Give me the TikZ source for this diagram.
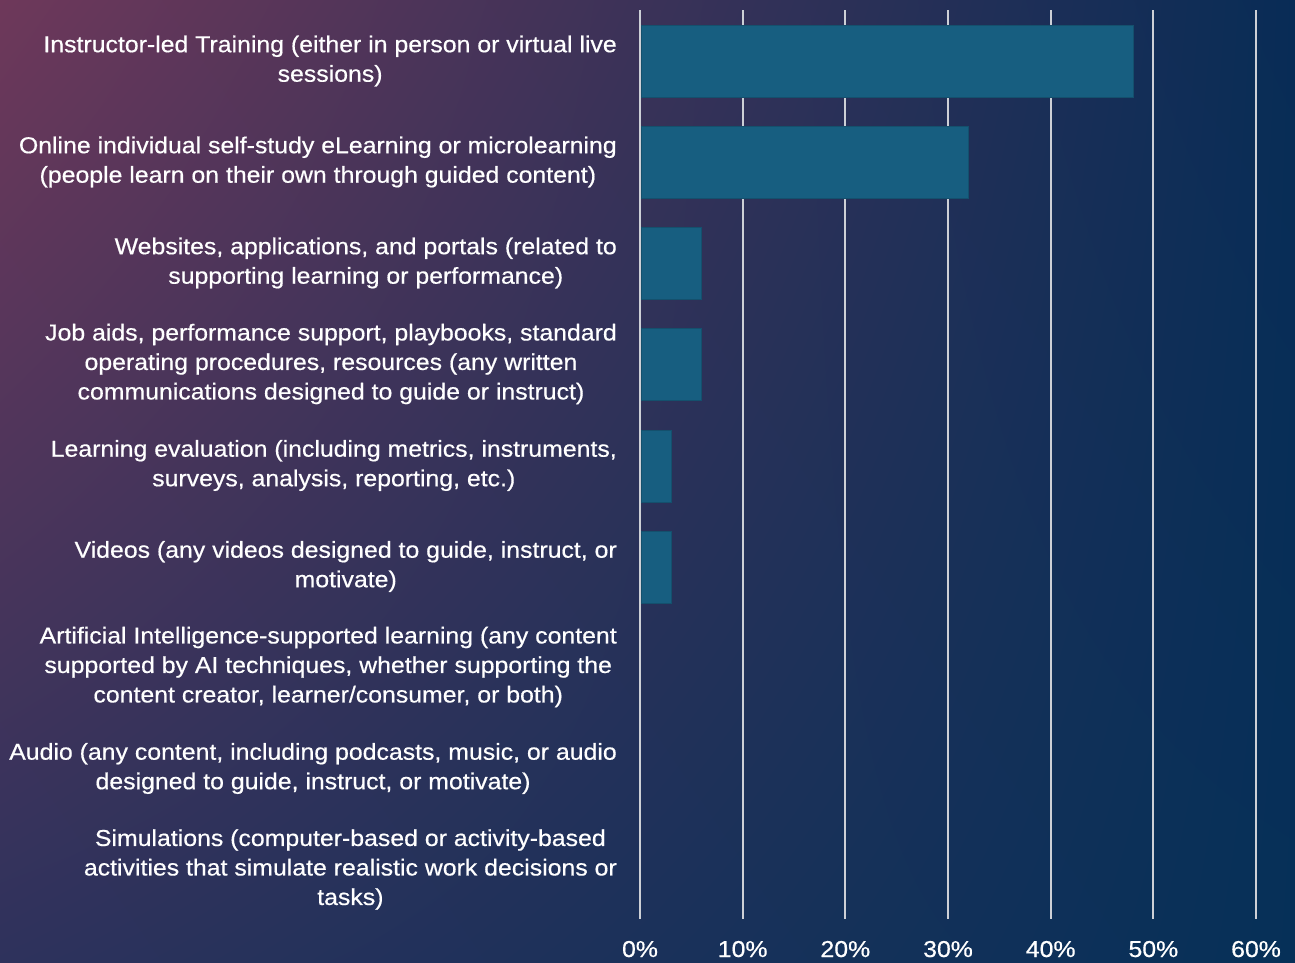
\documentclass[tikz,border=0pt]{standalone}
\usepackage{fontspec}
\usetikzlibrary{shadings}
\setmainfont{Liberation Sans}[FakeStretch=1.08,FakeBold=0.5]
\definecolor{bgUL}{RGB}{110,56,90}
\definecolor{bgUR}{RGB}{8,44,86}
\definecolor{bgLL}{RGB}{46,50,92}
\definecolor{bgLR}{RGB}{6,48,88}
\definecolor{barcol}{RGB}{23,94,128}
\definecolor{gridcol}{RGB}{205,208,214}
\begin{document}
\begin{tikzpicture}[x=1pt,y=-1pt,
  lbl/.style={anchor=east,align=center,inner sep=0pt,text=white,font=\fontsize{23}{29.5}\selectfont},
  tick/.style={anchor=base,inner sep=0pt,text=white,font=\fontsize{23}{25}\selectfont},
  gridline/.style={draw=gridcol,line width=1.8pt},
  barfill/.style={fill=barcol,draw=barcol!85!black,line width=0.6pt}]
\useasboundingbox (0,0) rectangle (1295,962);
\shade[upper left=bgUL,upper right=bgUR,lower left=bgLL,lower right=bgLR] (0,0) rectangle (1295,962);
% grid
\foreach \i/\t in {0/0\%,1/10\%,2/20\%,3/30\%,4/40\%,5/50\%,6/60\%}{
  \draw[gridline] (640+102.67*\i,10) -- (640+102.67*\i,919);
  \node[tick] (t\i) at (640+102.67*\i,957) {\t};
}
% bars
\foreach \v/\c [count=\k] in {48/61,32/162,6/263,6/364,3/466,3/567}{
  \path[barfill] (641,\c-36) rectangle (640+10.267*\v,\c+36);
}
% labels
\node[lbl] (l1) at (617,61) {Instructor-led Training (either in person or virtual live\\sessions)};
\node[lbl] (l2) at (617,162) {Online individual self-study eLearning or microlearning\\(people learn on their own through guided content)};
\node[lbl] (l3) at (617,263) {Websites, applications, and portals (related to\\supporting learning or performance)};
\node[lbl] (l4) at (617,364) {Job aids, performance support, playbooks, standard\\operating procedures, resources (any written\\communications designed to guide or instruct)};
\node[lbl] (l5) at (617,465.5) {Learning evaluation (including metrics, instruments,\\surveys, analysis, reporting, etc.)};
\node[lbl] (l6) at (617,566.5) {Videos (any videos designed to guide, instruct, or\\motivate)};
\node[lbl] (l7) at (617,667) {Artificial Intelligence-supported learning (any content\\supported by AI techniques, whether supporting the\\content creator, learner/consumer, or both)};
\node[lbl] (l8) at (617,768.5) {Audio (any content, including podcasts, music, or audio\\designed to guide, instruct, or motivate)};
\node[lbl] (l9) at (617,869.5) {Simulations (computer-based or activity-based\\activities that simulate realistic work decisions or\\tasks)};
\end{tikzpicture}
\end{document}
